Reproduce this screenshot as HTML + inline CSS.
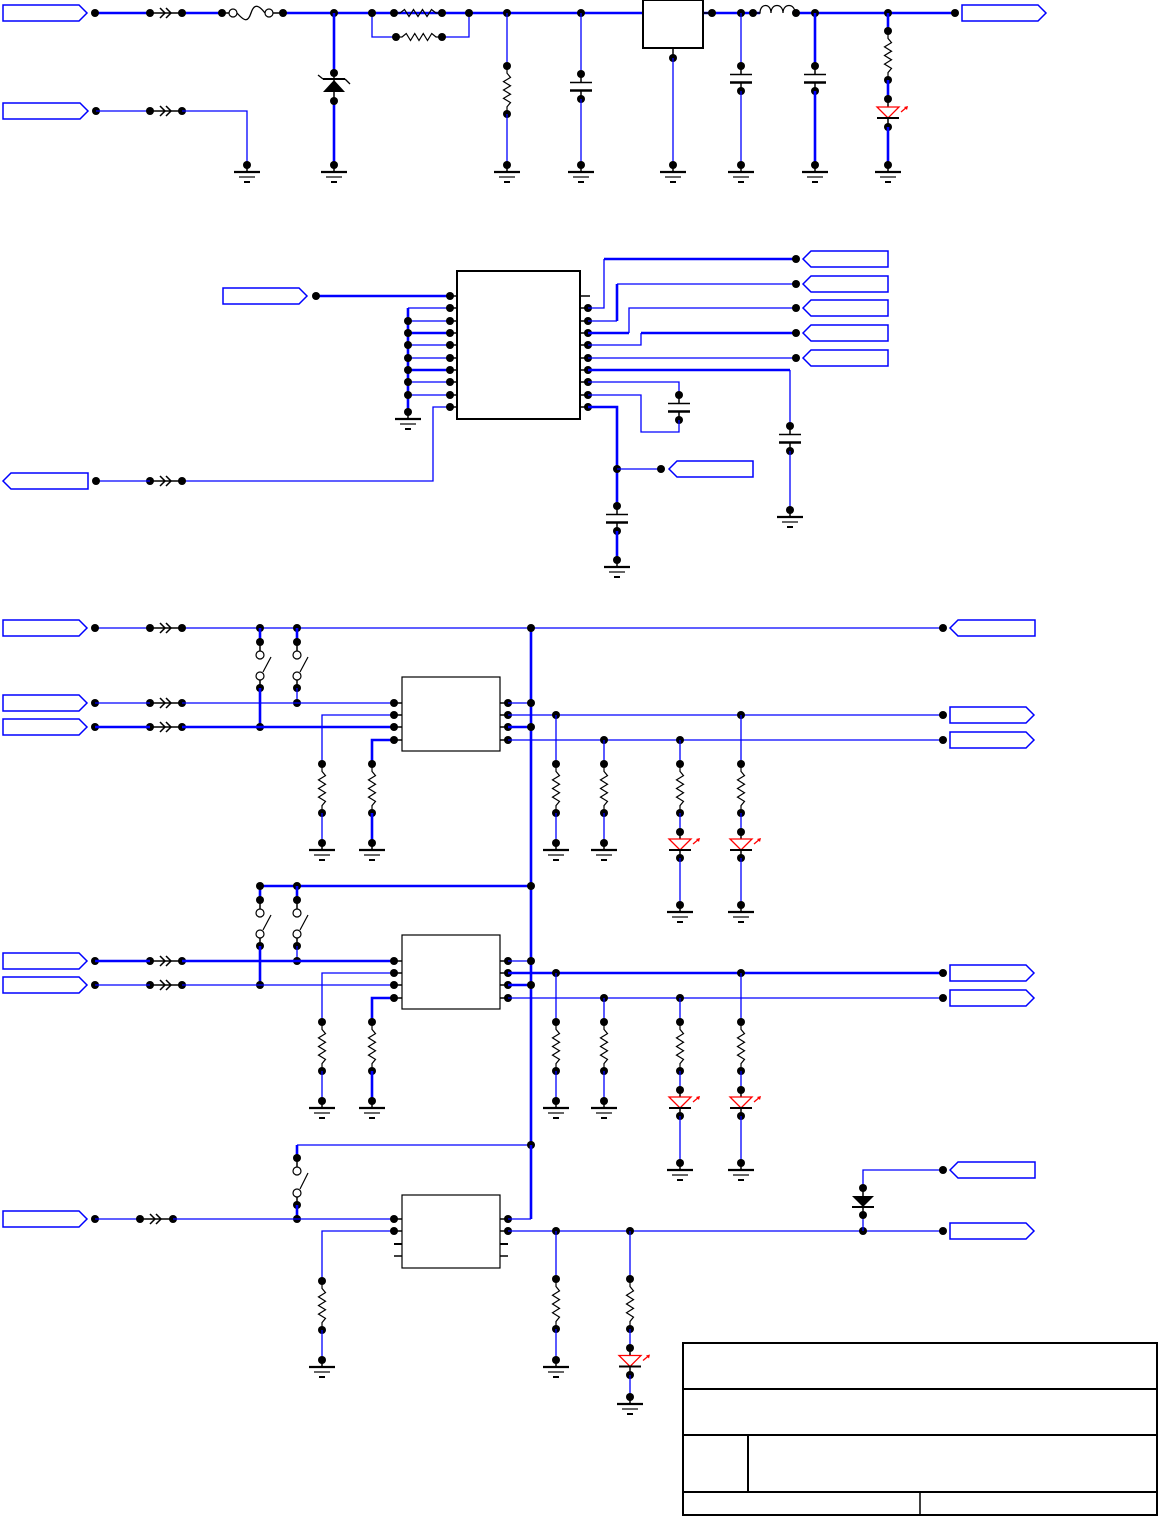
<!DOCTYPE html>
<html><head><meta charset="utf-8"><style>html,body{margin:0;padding:0;background:#fff}svg{display:block}</style></head>
<body><svg id="s" width="1159" height="1517" viewBox="0 0 1159 1517" xmlns="http://www.w3.org/2000/svg"></svg>
<script>
var o=[];var B='#0000ff';
function W(p,t){o.push('<polyline points="'+p.join(' ')+'" fill="none" stroke="'+B+'" stroke-width="'+(t?2.6:1.3)+'"/>');}
function L(x1,y1,x2,y2,w,c){o.push('<line x1="'+x1+'" y1="'+y1+'" x2="'+x2+'" y2="'+y2+'" stroke="'+(c||'#000')+'" stroke-width="'+(w||1.5)+'"/>');}
function D(x,y){o.push('<circle cx="'+x+'" cy="'+y+'" r="4" fill="#000"/>');}
function G(x,y){D(x,y);L(x,y,x,y+6);L(x-13,y+7,x+13,y+7,2.2);L(x-8,y+12,x+8,y+12,1.2);L(x-3,y+17,x+3,y+17,2);}
function R(x,y1,y2){D(x,y1);D(x,y2);var m=(y1+y2)/2,h=(y2-y1)*0.7/2,s=m-h,e=m+h,n=8,d='M'+x+' '+y1+' L'+x+' '+s;for(var i=1;i<=n;i++){d+=' L'+(i==n?x:(x+(i%2?3.5:-3.5)))+' '+(s+(e-s)*i/n);}d+=' L'+x+' '+y2;o.push('<path d="'+d+'" fill="none" stroke="#000" stroke-width="1.2"/>');}
function RH(x1,x2,y){D(x1,y);D(x2,y);var s=x1+6,e=x2-6,n=8,d='M'+x1+' '+y+' L'+s+' '+y;for(var i=1;i<=n;i++){d+=' L'+(s+(e-s)*i/n)+' '+(i==n?y:(y+(i%2?-3.5:3.5)));}d+=' L'+x2+' '+y;o.push('<path d="'+d+'" fill="none" stroke="#000" stroke-width="1.2"/>');}
function C(x,y1,y2){D(x,y1);D(x,y2);var m=(y1+y2)/2;L(x,y1,x,m-4);L(x,m+4,x,y2);L(x-11,m-4,x+11,m-4,1.5);L(x-11,m+4,x+11,m+4,2.5);}
function K(x1,x2,y){D(x1,y);D(x2,y);L(x1,y,x2,y,1.5);var a=x1+10;o.push('<path d="M'+a+' '+(y-5)+' L'+(a+5)+' '+y+' L'+a+' '+(y+5)+' M'+(a+6)+' '+(y-5)+' L'+(a+11)+' '+y+' L'+(a+6)+' '+(y+5)+'" fill="none" stroke="#000" stroke-width="1.5"/>');}
function PR(x1,x2,y){o.push('<polygon points="'+x1+','+(y-8)+' '+(x2-8)+','+(y-8)+' '+x2+','+y+' '+(x2-8)+','+(y+8)+' '+x1+','+(y+8)+'" fill="#fff" stroke="'+B+'" stroke-width="1.5"/>');}
function PL(x1,x2,y){o.push('<polygon points="'+x1+','+y+' '+(x1+8)+','+(y-8)+' '+x2+','+(y-8)+' '+x2+','+(y+8)+' '+(x1+8)+','+(y+8)+'" fill="#fff" stroke="'+B+'" stroke-width="1.5"/>');}
function LED(x,y1,y2){D(x,y1);D(x,y2);var m=(y1+y2)/2;L(x,y1,x,y2);o.push('<polygon points="'+(x-11)+','+(m-6)+' '+(x+11)+','+(m-6)+' '+x+','+(m+5)+'" fill="#fff" stroke="#f00" stroke-width="1.3"/>');L(x-11,m+5,x+11,m+5,2);L(x+13,m-1,x+19,m-6,1.3,'#f00');o.push('<polygon points="'+(x+20)+','+(m-7)+' '+(x+16)+','+(m-6)+' '+(x+19)+','+(m-3)+'" fill="#f00"/>');}
function SW(x,ya,yb){D(x,ya);D(x,yb);var c1=ya+13,c2=yb-12;L(x,ya,x,c1-4);L(x,c2+4,x,yb);o.push('<circle cx="'+x+'" cy="'+c1+'" r="4" fill="#fff" stroke="#000" stroke-width="1.2"/><circle cx="'+x+'" cy="'+c2+'" r="4" fill="#fff" stroke="#000" stroke-width="1.2"/>');L(x+3,c2-4,x+11,c1+2,1.2);}
function BOX(x1,y1,x2,y2,w){o.push('<rect x="'+x1+'" y="'+y1+'" width="'+(x2-x1)+'" height="'+(y2-y1)+'" fill="#fff" stroke="#000" stroke-width="'+(w||1.5)+'"/>');}
// ===== Section 1 =====
W([95,13,150,13],1);W([182,13,222,13],1);W([283,13,643,13],1);W([703,13,760,13],1);W([795,13,955,13],1);
W([372,13,372,37,396,37]);W([442,37,469,37,469,13]);
PR(3,87,13);D(95,13);K(150,182,13);
D(222,13);D(283,13);L(222,13,229,13);L(273,13,283,13);o.push('<circle cx="233" cy="13" r="4" fill="#fff" stroke="#000" stroke-width="1.2"/><circle cx="269" cy="13" r="4" fill="#fff" stroke="#000" stroke-width="1.2"/><path d="M237 13 C245 22 248 22 251 13 C254 4 258 4 265 13" fill="none" stroke="#000" stroke-width="1.3"/>');
D(334,13);D(372,13);D(469,13);D(507,13);D(581,13);
RH(394,442,13);RH(396,442,37);
BOX(643,0,703,48,2);L(703,13,712,13);D(712,13);L(673,48,673,58);D(673,58);
D(741,13);D(753,13);D(796,13);D(815,13);D(888,13);D(955,13);PR(962,1046,13);
o.push('<path d="M753 13 L760 13 C760 3 771 3 771 13 C771 3 783 3 783 13 C783 3 795 3 795 13 L796 13" fill="none" stroke="#000" stroke-width="1.3"/>');
W([334,13,334,73],1);W([334,101,334,165],1);D(334,73);D(334,101);L(334,73,334,101);
o.push('<polygon points="323,92 345,92 334,80" fill="#000"/>');L(323,79,345,79,2);L(323,79,318,75,1.3);L(345,79,350,84,1.3);
W([507,13,507,66]);R(507,66,114);W([507,114,507,165]);G(507,165);
W([581,13,581,74]);C(581,74,99);W([581,99,581,165]);G(581,165);
W([673,58,673,165]);G(673,165);G(334,165);
W([741,13,741,66]);C(741,66,91);W([741,91,741,165]);G(741,165);
W([815,13,815,66],1);C(815,66,91);W([815,91,815,165],1);G(815,165);
W([888,13,888,31],1);R(888,31,80);W([888,80,888,99],1);LED(888,99,127);W([888,127,888,165],1);G(888,165);
PR(3,88,111);D(96,111);W([96,111,150,111]);K(150,182,111);W([182,111,247,111,247,165]);G(247,165);
// ===== Section 2 =====
var lp=[296,308,321,333,345,358,370,382,395,407];
W([316,296,450,296],1);PR(223,307,296);D(316,296);
W([408,308,408,412],1);
for(var i=1;i<9;i++){var y=lp[i];W([408,y,450,y],(i==3||i==6));if(i>1)D(408,y);}
G(408,412);
W([450,407,433,407,433,481,182,481]);K(150,182,481);W([96,481,150,481]);D(96,481);PL(3,88,481);
for(var i=0;i<10;i++){L(450,lp[i],457,lp[i]);D(450,lp[i]);if(i>0){L(580,lp[i],588,lp[i]);D(588,lp[i]);}}
L(580,296,590,296);
BOX(457,271,580,419,2);
W([588,308,604,308,604,259]);W([604,259,796,259],1);
W([588,321,617,321]);W([617,321,617,284],1);W([617,284,796,284]);
W([588,333,629,333],1);W([629,333,629,308,796,308]);
W([588,345,641,345,641,333]);W([641,333,796,333],1);W([588,358,796,358]);
W([588,370,790,370],1);W([790,370,790,426]);C(790,426,451);W([790,451,790,510]);G(790,510);
W([588,382,679,382,679,395]);C(679,395,420);W([679,420,679,432,641,432,641,395,588,395]);
W([588,407,617,407,617,506],1);D(617,469);W([617,469,661,469]);D(661,469);PL(669,753,469);
C(617,506,531);W([617,531,617,560],1);G(617,560);
[259,284,308,333,358].forEach(function(y){D(796,y);PL(803,888,y);});
// ===== Sections 3,4 =====
W([95,628,150,628]);W([182,628,943,628]);PR(3,87,628);D(95,628);K(150,182,628);D(943,628);PL(950,1035,628);
D(260,628);D(297,628);
W([531,628,531,1145],1);D(531,628);
function blk(o0,first){
 var a=703+o0,b=715+o0,c=727+o0,d=740+o0;
 if(first){W([260,628,260,642],1);W([297,628,297,642],1);}
 else{W([260,900,260,886,531,886],1);D(260,886);D(297,886);D(531,886);W([297,886,297,900],1);}
 SW(260,642+o0,688+o0);SW(297,642+o0,688+o0);
 W([260,688+o0,260,c],1);W([297,688+o0,297,a]);D(297,a);D(260,c);
 PR(3,87,c);D(95,c);K(150,182,c);W([95,c,150,c],first);W([182,c,394,c],first);
 PR(3,87,a);D(95,a);K(150,182,a);W([95,a,150,a],!first);W([182,a,394,a],!first);
 W([394,b,322,b,322,764+o0]);R(322,764+o0,813+o0);W([322,813+o0,322,843+o0]);G(322,843+o0);
 W([394,d,372,d,372,764+o0],1);R(372,764+o0,813+o0);W([372,813+o0,372,843+o0],1);G(372,843+o0);
 [a,b,c,d].forEach(function(y){L(394,y,402,y);D(394,y);L(500,y,508,y);D(508,y);});
 BOX(402,677+o0,500,751+o0,1.2);
 W([508,a,531,a]);W([508,c,531,c],1);D(531,a);D(531,c);
 W([508,b,943,b],!first);W([508,d,943,d]);D(556,b);D(741,b);D(943,b);D(604,d);D(680,d);D(943,d);
 PR(950,1034,b);PR(950,1034,d);
 W([556,b,556,764+o0]);R(556,764+o0,813+o0);W([556,813+o0,556,843+o0]);G(556,843+o0);
 W([604,d,604,764+o0]);R(604,764+o0,813+o0);W([604,813+o0,604,843+o0]);G(604,843+o0);
 [680,741].forEach(function(x){var y0=(x==680?d:b);W([x,y0,x,764+o0]);R(x,764+o0,813+o0);W([x,813+o0,x,832+o0]);LED(x,832+o0,858+o0);W([x,858+o0,x,905+o0]);G(x,905+o0);});
}
blk(0,true);blk(258,false);
// ===== Section 5 =====
W([297,1145,531,1145]);D(531,1145);W([297,1145,297,1158],1);SW(297,1158,1205);W([297,1205,297,1219],1);D(297,1219);
PR(3,87,1219);D(95,1219);W([95,1219,140,1219]);K(140,173,1219);W([173,1219,394,1219]);
W([394,1231,322,1231,322,1281]);R(322,1281,1330);W([322,1330,322,1360]);G(322,1360);
[1219,1231].forEach(function(y){L(394,y,402,y);D(394,y);L(500,y,508,y);D(508,y);});
L(394,1244,402,1244,2);L(394,1256,402,1256);L(500,1244,508,1244,2);L(500,1256,508,1256);
BOX(402,1195,500,1268,1.2);
W([508,1219,531,1219]);W([531,1219,531,1145],1);
W([508,1231,943,1231]);D(556,1231);D(630,1231);D(863,1231);D(943,1231);PR(950,1034,1231);
W([556,1231,556,1279]);R(556,1279,1329);W([556,1329,556,1360]);G(556,1360);
W([630,1231,630,1279]);R(630,1279,1329);W([630,1329,630,1348]);LED(630,1348,1375);W([630,1375,630,1397]);G(630,1397);
W([863,1231,863,1215]);W([863,1188,863,1170,943,1170]);D(943,1170);PL(950,1035,1170);
D(863,1188);D(863,1215);L(863,1188,863,1215);o.push('<polygon points="852,1196 874,1196 863,1207" fill="#000"/>');L(852,1207,874,1207,2);
BOX(683,1343,1157,1515,2);L(683,1389,1157,1389,2);L(683,1435,1157,1435,2);L(683,1492,1157,1492,2);L(748,1435,748,1492,2);L(920,1492,920,1515,1.5);
document.getElementById('s').innerHTML=o.join('');
</script></body></html>
